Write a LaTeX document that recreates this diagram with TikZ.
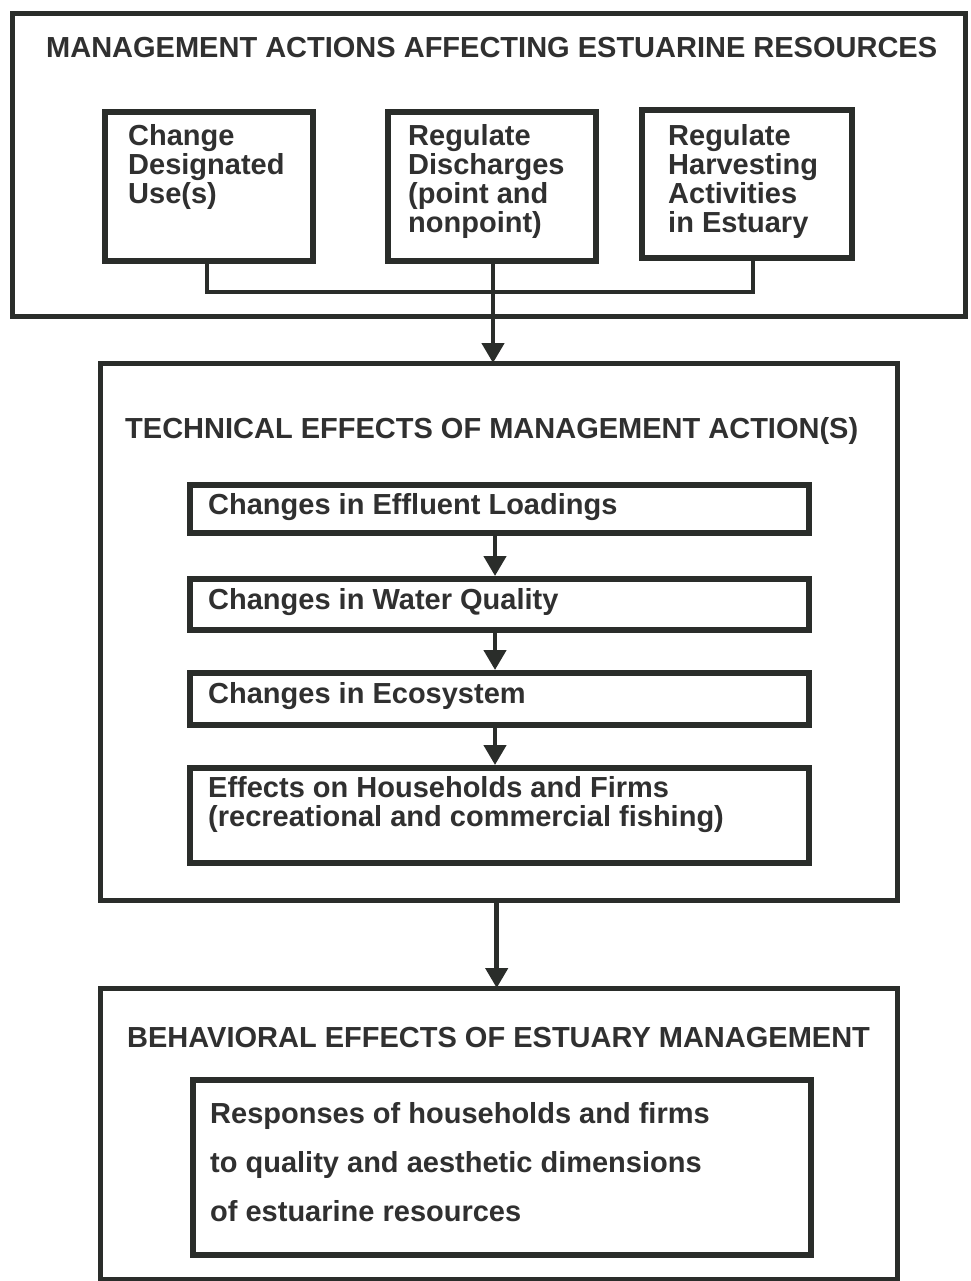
\documentclass[tikz,border=0pt]{standalone}
\usepackage{fontspec}
\setmainfont{Liberation Sans}
\usetikzlibrary{arrows.meta}
\definecolor{ink}{HTML}{2A2D2A}
\definecolor{tink}{HTML}{303030}
\tikzset{
  outerbox/.style={draw=ink, line width=5pt},
  innerbox/.style={draw=ink, line width=6pt},
  conn/.style={draw=ink, line width=4.5pt},
  arr/.style={conn, -{Triangle[length=20pt,width=22pt]}},
  ttl/.style={text=tink, anchor=north west, inner sep=0pt, font=\bfseries\fontsize{29}{29}\selectfont},
  txt/.style={text=tink, anchor=north west, inner sep=0pt, align=left, font=\bfseries\fontsize{29}{29}\selectfont},
  resp/.style={text=tink, anchor=north west, inner sep=0pt, align=left, font=\bfseries\fontsize{29}{49}\selectfont},
}
\begin{document}
\begin{tikzpicture}[x=1pt,y=-1pt]
\useasboundingbox (0,0) rectangle (970,1281);
\fill[white] (0,0) rectangle (970,1281);
% top box
\path[outerbox] (12,14) rectangle (965,316);
\node[ttl] (t1) at (46,37) {MANAGEMENT ACTIONS AFFECTING ESTUARINE RESOURCES};
\path[innerbox] (105,112) rectangle (313,261);
\coordinate (A) at (207,261);
\path[innerbox] (388,112) rectangle (596,261);
\coordinate (B) at (493,261);
\path[innerbox] (642,110) rectangle (852,258);
\coordinate (C) at (753,258);
\node[txt] (ta) at (128,124) {Change\\Designated\\Use(s)};
\node[txt] (tb) at (408,124) {Regulate\\Discharges\\(point and\\nonpoint)};
\node[txt] (tc) at (668,124) {Regulate\\Harvesting\\Activities\\in Estuary};
\coordinate (J) at (493,292);
\draw[conn] (A) |- (J) -| (C);
% middle box
\node[draw=none, minimum width=797pt, minimum height=537pt, anchor=north west, inner sep=0pt] (M) at (100,363) {};
\path[outerbox] (M.north west) rectangle (M.south east);
\draw[arr] (B) -- (493,363);
\node[ttl] (t2) at (125,417) {TECHNICAL EFFECTS OF MANAGEMENT ACTION(S)};
\node[innerbox, anchor=north west, minimum width=619pt, minimum height=48pt, inner sep=0pt] (e1) at (187,482) {};
\node[innerbox, anchor=north west, minimum width=619pt, minimum height=51pt, inner sep=0pt] (e2) at (187,576) {};
\node[innerbox, anchor=north west, minimum width=619pt, minimum height=52pt, inner sep=0pt] (e3) at (187,670) {};
\node[innerbox, anchor=north west, minimum width=619pt, minimum height=95pt, inner sep=0pt] (e4) at (187,765) {};
\node[txt] (te1) at (208,493) {Changes in Effluent Loadings};
\node[txt] (te2) at (208,588) {Changes in Water Quality};
\node[txt] (te3) at (208,682) {Changes in Ecosystem};
\node[txt] (te4) at (208,776) {Effects on Households and Firms\\(recreational and commercial fishing)};
\draw[arr] ([xshift=-4.5pt]e1.south) -- ([xshift=-4.5pt]e2.north);
\draw[arr] ([xshift=-4.5pt]e2.south) -- ([xshift=-4.5pt]e3.north);
\draw[arr] ([xshift=-4.5pt]e3.south) -- ([xshift=-4.5pt]e4.north);
% bottom box
\node[draw=none, minimum width=797pt, minimum height=291pt, anchor=north west, inner sep=0pt] (Bt) at (100,988) {};
\path[outerbox] (Bt.north west) rectangle (Bt.south east);
\draw[arr] ([xshift=-2pt]M.south) -- ([xshift=-2pt]Bt.north);
\node[ttl] (t3) at (127,1027) {BEHAVIORAL EFFECTS OF ESTUARY MANAGEMENT};
\node[innerbox, anchor=north west, minimum width=618pt, minimum height=175pt, inner sep=0pt] (r) at (190,1077) {};
\node[resp] (tr) at (210,1102) {Responses of households and firms\\to quality and aesthetic dimensions\\of estuarine resources};
\end{tikzpicture}
\end{document}
